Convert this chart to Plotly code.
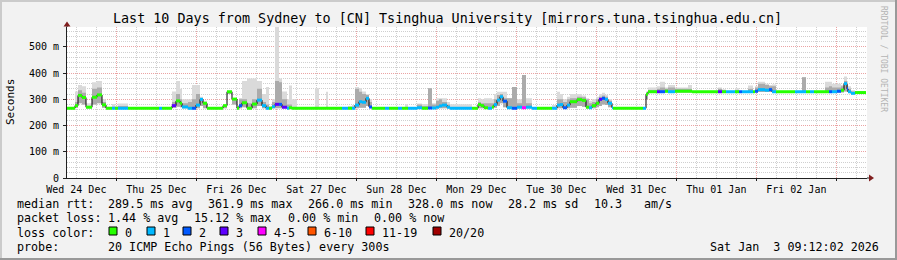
import pandas as pd
import plotly.graph_objects as go

# ---------------- data ----------------
START = pd.Timestamp("2025-12-24 09:12:02")
END_HOURS = 239.7

seg_hours = [
    0, 2.4, 3.3, 4.5, 5.7, 7.5, 9.0, 10.5, 11.7, 13.5,
    14.4, 15.3, 18.3, 27.6, 28.5, 31.5, 32.7, 33.9, 34.5, 36.3,
    37.5, 38.7, 39.9, 40.8, 42.0, 46.8, 48.0, 49.5, 51.0, 51.6,
    52.5, 54.0, 55.5, 57.0, 58.5, 59.7, 60.6, 61.5, 62.4, 63.6,
    64.5, 66.0, 66.6, 67.5, 69.0, 74.4, 75.6, 77.7, 78.3, 82.5,
    84.3, 85.5, 86.4, 87.6, 88.5, 89.7, 90.6, 91.5, 95.4, 96.6,
    99.3, 100.5, 101.4, 102.3, 105.0, 106.5, 108.3, 109.5, 110.7, 111.6,
    112.5, 114.0, 114.9, 121.5, 123.3, 124.2, 125.1, 126.3, 127.5, 128.1,
    129.0, 129.9, 130.8, 132.0, 133.5, 135.0, 136.5, 137.7, 139.5, 141.0,
    145.5, 147.0, 147.9, 148.8, 150.0, 150.9, 153.0, 154.5, 155.7, 156.6,
    157.5, 158.7, 159.6, 160.5, 161.4, 162.3, 163.5, 163.8, 172.8, 173.7,
    174.3, 177.0, 177.9, 179.4, 180.3, 182.4, 186.3, 187.5, 195.3, 196.5,
    197.7, 200.4, 201.6, 202.5, 204.3, 205.8, 206.4, 207.3, 209.4, 210.6,
    211.5, 212.7, 218.4, 220.5, 221.7, 222.9, 224.1, 227.4, 228.6, 229.5,
    231.0, 232.2, 233.1, 234.0, 234.3, 235.2, 236.4,
]

median_ms = [
    266, 276, 315, 307, 270, 308, 317, 279, 266, 266,
    266, 266, 266, 266, 266, 276, 294, 285, 271, 266,
    266, 278, 300, 285, 266, 276, 329, 301, 266, 276,
    287, 266, 282, 297, 276, 266, 266, 272, 281, 281,
    270, 266, 268, 266, 266, 266, 266, 266, 266, 266,
    266, 266, 278, 291, 289, 304, 271, 266, 266, 266,
    266, 266, 266, 266, 268, 266, 267, 267, 270, 275,
    278, 270, 266, 266, 280, 276, 268, 266, 271, 280,
    297, 310, 293, 268, 266, 270, 268, 270, 266, 266,
    266, 278, 280, 268, 278, 291, 299, 296, 270, 268,
    276, 285, 300, 304, 300, 285, 268, 266, 266, 319,
    329, 329, 329, 331, 329, 331, 331, 329, 329, 329,
    329, 329, 329, 329, 329, 329, 331, 337, 335, 337,
    329, 329, 329, 329, 329, 329, 329, 329, 329, 329,
    331, 335, 360, 340, 329, 323, 326,
]

loss_bin = [
    0, 0, 0, 0, 0, 0, 0, 0, 0, 1,
    0, 1, 0, 1, 0, 3, 0, 0, 1, 1,
    2, 1, 1, 0, 0, 0, 0, 0, 0, 2,
    0, 0, 0, 1, 1, 1, 0, 1, 3, 2,
    3, 1, 0, 0, 0, 0, 0, 0, 0, 1,
    0, 1, 1, 1, 1, 1, 2, 0, 1, 0,
    1, 0, 0, 1, 1, 0, 2, 1, 1, 1,
    1, 1, 1, 0, 0, 0, 0, 1, 0, 1,
    1, 1, 2, 1, 2, 1, 4, 1, 1, 0,
    1, 1, 1, 2, 1, 0, 0, 0, 0, 1,
    0, 0, 3, 2, 1, 1, 1, 0, 1, 0,
    0, 3, 2, 0, 1, 0, 0, 0, 3, 0,
    1, 0, 2, 1, 1, 0, 2, 1, 1, 2,
    1, 0, 1, 1, 0, 1, 0, 0, 2, 1,
    2, 0, 1, 2, 1, 1, 0,
]

smoke_lo = [
    266, 268, 285, 280, 266, 280, 285, 268, 266, 266,
    266, 266, 266, 266, 266, 268, 272, 270, 266, 266,
    266, 266, 275, 266, 266, 266, 320, 280, 266, 266,
    270, 266, 266, 275, 266, 266, 266, 266, 266, 266,
    266, 266, 266, 266, 266, 266, 266, 266, 266, 266,
    266, 266, 266, 268, 268, 275, 266, 266, 266, 266,
    266, 266, 266, 266, 266, 266, 266, 266, 266, 266,
    266, 266, 266, 266, 266, 266, 266, 266, 266, 268,
    275, 285, 270, 266, 266, 266, 266, 266, 266, 266,
    266, 266, 266, 266, 266, 268, 275, 272, 266, 266,
    266, 270, 275, 280, 278, 270, 266, 266, 266, 300,
    326, 326, 326, 326, 326, 326, 326, 328, 326, 326,
    328, 326, 328, 328, 326, 328, 326, 328, 328, 328,
    326, 328, 328, 328, 328, 328, 328, 326, 326, 326,
    326, 326, 330, 328, 326, 322, 325,
]

smoke_mid = [
    266, 290, 335, 325, 275, 340, 345, 290, 268, 272,
    270, 275, 266, 266, 266, 290, 320, 300, 285, 290,
    300, 320, 305, 290, 266, 278, 331, 303, 268, 300,
    300, 285, 300, 340, 290, 280, 270, 290, 370, 365,
    300, 280, 280, 270, 266, 270, 266, 270, 266, 266,
    270, 272, 340, 329, 320, 317, 290, 266, 266, 266,
    266, 266, 268, 266, 280, 275, 342, 280, 295, 300,
    290, 280, 270, 266, 290, 285, 285, 285, 285, 300,
    317, 320, 304, 304, 347, 285, 393, 285, 266, 266,
    270, 300, 300, 290, 300, 304, 310, 308, 300, 285,
    290, 300, 310, 315, 310, 295, 270, 266, 266, 325,
    335, 340, 345, 340, 345, 340, 340, 330, 340, 335,
    330, 335, 330, 330, 340, 330, 345, 360, 355, 350,
    350, 330, 330, 384, 330, 330, 330, 345, 350, 345,
    345, 350, 370, 355, 340, 330, 327,
]

smoke_hi = [
    268, 330, 355, 350, 285, 365, 370, 300, 272, 282,
    276, 284, 268, 270, 268, 330, 370, 340, 300, 300,
    355, 355, 310, 295, 268, 280, 333, 305, 270, 305,
    370, 380, 380, 370, 320, 347, 275, 300, 578, 380,
    330, 300, 353, 300, 268, 342, 268, 329, 268, 268,
    275, 278, 347, 342, 330, 320, 300, 268, 268, 268,
    268, 268, 281, 268, 284, 282, 342, 285, 304, 304,
    304, 290, 281, 268, 304, 300, 304, 304, 300, 320,
    329, 329, 329, 304, 347, 300, 393, 304, 268, 268,
    278, 329, 320, 300, 310, 320, 320, 315, 304, 295,
    300, 310, 320, 325, 318, 300, 272, 268, 268, 330,
    345, 350, 367, 345, 355, 345, 355, 332, 345, 339,
    332, 342, 332, 332, 353, 332, 350, 367, 360, 355,
    357, 332, 332, 384, 332, 332, 332, 367, 367, 360,
    360, 355, 387, 370, 350, 335, 328,
]

loss_labels = ["0", "1", "2", "3", "4-5", "6-10", "11-19", "20/20"]
loss_colors = ["#26ff00", "#00b8ff", "#0059ff", "#5e00ff", "#ff00ff", "#ff5500", "#ff0000", "#a00000"]

day_labels = ["Wed 24 Dec", "Thu 25 Dec", "Fri 26 Dec", "Sat 27 Dec", "Sun 28 Dec",
              "Mon 29 Dec", "Tue 30 Dec", "Wed 31 Dec", "Thu 01 Jan", "Fri 02 Jan"]
y_ticks = [0, 100, 200, 300, 400, 500]
y_ticktext = ["0", "100 m", "200 m", "300 m", "400 m", "500 m"]

title_text = "Last 10 Days from Sydney to [CN] Tsinghua University [mirrors.tuna.tsinghua.edu.cn]"
rtt_items = ["median rtt:", "289.5 ms avg", "361.9 ms max", "266.0 ms min", "328.0 ms now",
             "28.2 ms sd", "10.3", "am/s"]
loss_items = ["packet loss:", "1.44 % avg", "15.12 % max", "0.00 % min", "0.00 % now"]
probe_text = "20 ICMP Echo Pings (56 Bytes) every 300s"
stamp_text = "Sat Jan  3 09:12:02 2026"

# ---------------- layout geometry (pixels) ----------------
W, H = 897, 260
ML, MR, MT, MB = 67, 30, 27, 82
PW = W - ML - MR
PH = H - MT - MB
Y_MAX = 576


def px(x):
    return (x - ML) / PW


def py(y):
    return (H - MB - y) / PH


MONO = "DejaVu Sans Mono"

times = [START + pd.Timedelta(hours=h) for h in seg_hours] + [START + pd.Timedelta(hours=END_HOURS)]


def ext(v):
    return list(v) + [v[-1]]


fig = go.Figure()

# smoke: light full range, darker dense part
for top, col in ((smoke_hi, "#dadada"), (smoke_mid, "#ababab")):
    fig.add_trace(go.Scatter(x=times, y=ext(smoke_lo), mode="lines",
                             line=dict(width=0, shape="hv"), hoverinfo="skip", showlegend=False))
    fig.add_trace(go.Scatter(x=times, y=ext(top), mode="lines",
                             line=dict(width=0, shape="hv"), fill="tonexty", fillcolor=col,
                             hoverinfo="skip", showlegend=False))

# median (black step connector)
fig.add_trace(go.Scatter(x=times, y=ext(median_ms), mode="lines",
                         line=dict(color="#000000", width=1, shape="hv"),
                         hoverinfo="skip", showlegend=False))

# median coloured by packet loss
for code, col in enumerate(loss_colors):
    xs, ys = [], []
    for i, lb in enumerate(loss_bin):
        if lb == code:
            xs += [times[i], times[i + 1], None]
            ys += [median_ms[i], median_ms[i], None]
    if xs:
        fig.add_trace(go.Scatter(x=xs, y=ys, mode="lines", line=dict(color=col, width=3),
                                 hoverinfo="skip", showlegend=False))

# invisible trace for the label axis
label_times = [pd.Timestamp("2025-12-24 12:00") + pd.Timedelta(days=i) for i in range(len(day_labels))]
fig.add_trace(go.Scatter(x=[label_times[0]], y=[0], xaxis="x2", mode="markers",
                         marker=dict(opacity=0), hoverinfo="skip", showlegend=False))

x_range = [START, START + pd.Timedelta(days=10)]
GRID_MINOR = "#cfcfcf"
GRID_MAJOR = "#eba3a3"
DOT = "1px,1px"

fig.update_layout(
    width=W, height=H,
    margin=dict(l=ML, r=MR, t=MT, b=MB, pad=0),
    paper_bgcolor="#f2f2f2", plot_bgcolor="#ffffff",
    showlegend=False,
    xaxis=dict(type="date", range=x_range, tick0="2025-12-25 00:00", dtick=86400000,
               showticklabels=False, ticks="outside", ticklen=2, tickcolor="#202020",
               showgrid=True, gridcolor=GRID_MAJOR, griddash=DOT, gridwidth=1,
               minor=dict(tick0="2025-12-25 00:00", dtick=6 * 3600000, showgrid=True,
                          gridcolor=GRID_MINOR, griddash=DOT, ticks=""),
               showline=True, linecolor="#202020", linewidth=1, zeroline=False,
               fixedrange=True),
    xaxis2=dict(type="date", range=x_range, overlaying="x", anchor="y", side="bottom",
                tickmode="array", tickvals=label_times, ticktext=day_labels,
                tickfont=dict(family=MONO, size=10, color="#000000"),
                showgrid=False, showline=False, ticks="", zeroline=False,
                ticklabelstandoff=4),
    yaxis=dict(range=[0, Y_MAX], tickmode="array", tickvals=y_ticks, ticktext=y_ticktext,
               tickfont=dict(family=MONO, size=10, color="#000000"),
               ticks="outside", ticklen=3, tickcolor="#202020",
               showgrid=True, gridcolor=GRID_MAJOR, griddash=DOT, gridwidth=1,
               minor=dict(dtick=20, showgrid=True, gridcolor=GRID_MINOR, griddash=DOT, ticks=""),
               showline=True, linecolor="#202020", linewidth=1, zeroline=False,
               ticklabelstandoff=2),
)

shapes = []
# bevel border
shapes.append(dict(type="rect", xref="paper", yref="paper", x0=px(0), x1=px(W), y0=py(0), y1=py(2),
                   fillcolor="#cbcbcb", line=dict(width=0), layer="above"))
shapes.append(dict(type="rect", xref="paper", yref="paper", x0=px(0), x1=px(2), y0=py(0), y1=py(H),
                   fillcolor="#cbcbcb", line=dict(width=0), layer="above"))
shapes.append(dict(type="rect", xref="paper", yref="paper", x0=px(0), x1=px(W), y0=py(H - 2), y1=py(H),
                   fillcolor="#999999", line=dict(width=0), layer="above"))
shapes.append(dict(type="rect", xref="paper", yref="paper", x0=px(W - 2), x1=px(W), y0=py(0), y1=py(H),
                   fillcolor="#999999", line=dict(width=0), layer="above"))
# axis extensions and arrows
shapes.append(dict(type="line", xref="paper", yref="paper", x0=px(867), x1=px(870), y0=py(178), y1=py(178),
                   line=dict(color="#202020", width=1)))
shapes.append(dict(type="path", xref="paper", yref="paper",
                   path=f"M {px(869)} {py(174.5)} L {px(874)} {py(178)} L {px(869)} {py(181.5)} Z",
                   fillcolor="#801f1f", line=dict(width=0)))
shapes.append(dict(type="line", xref="paper", yref="paper", x0=px(67), x1=px(67), y0=py(27), y1=py(24),
                   line=dict(color="#202020", width=1)))
shapes.append(dict(type="path", xref="paper", yref="paper",
                   path=f"M {px(63.5)} {py(26.5)} L {px(67)} {py(21.5)} L {px(70.5)} {py(26.5)} Z",
                   fillcolor="#801f1f", line=dict(width=0)))

annotations = []


def text(s, x, y, size=11.7, anchor="left", color="#000000", angle=0):
    annotations.append(dict(text=s.replace("  ", " \u00a0"), x=px(x), y=py(y), xref="paper", yref="paper",
                            xanchor=anchor, yanchor="middle", showarrow=False, textangle=angle,
                            font=dict(family=MONO, size=size, color=color), borderpad=0))


text(title_text, 447, 19, size=13.4, anchor="center")
text("Seconds", 10, 102, size=11, anchor="center", angle=-90)
text("RRDTOOL / TOBI OETIKER", 884, 59, size=8, anchor="center", color="#b4b4b4", angle=90)

rtt_x = [16, 107, 207, 307, 407, 507, 593, 643]
for s, x in zip(rtt_items, rtt_x):
    text(s, x, 203.5)
loss_x = [16, 107, 193, 287, 373]
for s, x in zip(loss_items, loss_x):
    text(s, x, 218)
text("loss color:", 16, 232.5)
box_x = [109, 147, 183, 220, 258, 308, 366, 433]
for lbl, col, bx in zip(loss_labels, loss_colors, box_x):
    shapes.append(dict(type="rect", xref="paper", yref="paper", x0=px(bx), x1=px(bx + 8),
                       y0=py(227), y1=py(235), fillcolor=col, line=dict(color="#000000", width=1)))
    text(lbl, bx + 15, 232.5)
text("probe:", 16, 247)
text(probe_text, 107, 247)
text(stamp_text, 880, 247, anchor="right")

fig.update_layout(shapes=shapes, annotations=annotations)

fig.write_html("out.html")
